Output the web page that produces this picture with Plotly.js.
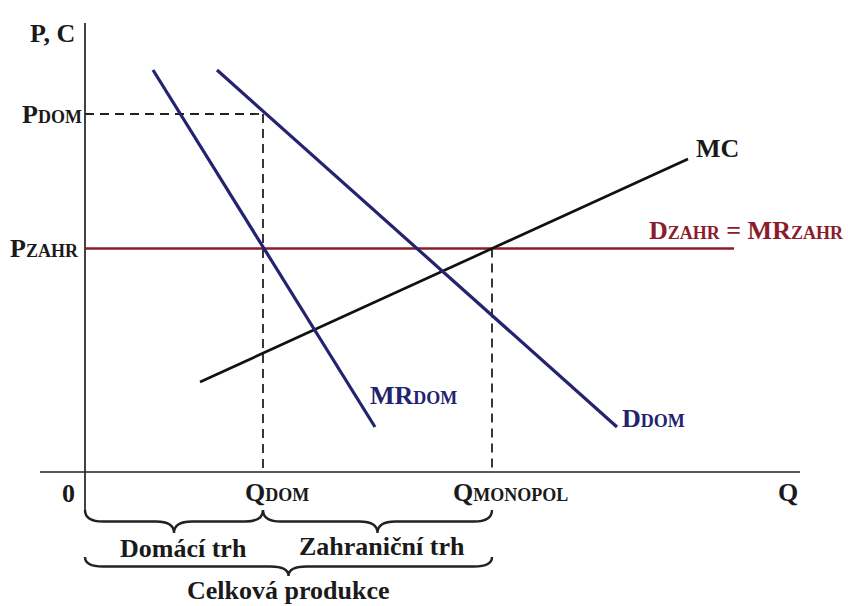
<!DOCTYPE html>
<html>
<head>
<meta charset="utf-8">
<script src="https://cdn.plot.ly/plotly-3.0.1.min.js"></script>
<style>html,body{margin:0;padding:0;background:#fff;}#chart{width:848px;height:606px;}</style>
</head>
<body>
<div id="chart"></div>
<script>
// Key levels (quantity / price units)
const qDom = 17.8;
const qMon = 40.7;
const pDom = 35.8;
const pZahr = 22.35;

// Curves
const mrDomQ = [6.8, 29.0];
const mrDomP = [40.2, 4.5];
const dDomQ = [13.2, 53.2];
const dDomP = [40.2, 4.5];
const mcQ = [11.5, 60.3];
const mcP = [9.0, 31.3];
const dZahrQ = [0, 64.9];
const dZahrP = [pZahr, pZahr];

// Axes extents
const xAxisQ = [-4.5, 71.5];
const yAxisP = [-3.8, 44.9];

const FONT = 'Liberation Serif, Times New Roman, serif';
const BLUE = '#23236f';
const RED = '#8a1c2c';
const SIZE = 26;
const sub = s => `<span style="font-size:18px">${s}</span>`;

const line = (x, y, color, width, dash) => ({
  type: 'scatter', mode: 'lines', x: x, y: y,
  line: {color: color, width: width, dash: dash || 'solid'},
  hoverinfo: 'skip', showlegend: false
});

const traces = [
  line(xAxisQ, [0, 0], '#222', 1.7),
  line([0, 0], yAxisP, '#222', 1.7),
  line([0, qDom], [pDom, pDom], '#222', 1.8, '9px,6px'),
  line([qDom, qDom], [pDom, 0], '#222', 1.8, '9px,6px'),
  line([qMon, qMon], [pZahr, 0], '#222', 1.8, '9px,6px'),
  line(dZahrQ, dZahrP, RED, 2.6),
  line(mcQ, mcP, '#111', 2.7),
  line(mrDomQ, mrDomP, BLUE, 3.2),
  line(dDomQ, dDomP, BLUE, 3.2)
];

function brace(x0, x1, yTop, h, r) {
  const ym = yTop - h / 2, yb = yTop - h, xm = (x0 + x1) / 2;
  return `M${x0},${yTop} Q${x0},${ym} ${x0 + r},${ym} L${xm - r},${ym} Q${xm},${ym} ${xm},${yb} ` +
         `Q${xm},${ym} ${xm + r},${ym} L${x1 - r},${ym} Q${x1},${ym} ${x1},${yTop}`;
}
const braceStyle = {color: '#222', width: 2.4};
const shapes = [
  {type: 'path', xref: 'x', yref: 'y', path: brace(0, qDom, -3.8, 2.3, 1.8), line: braceStyle},
  {type: 'path', xref: 'x', yref: 'y', path: brace(qDom, qMon, -3.8, 2.3, 1.8), line: braceStyle},
  {type: 'path', xref: 'x', yref: 'y', path: brace(0, qMon, -8.5, 1.9, 1.8), line: braceStyle}
];

const ann = (x, y, text, opts) => Object.assign({
  x: x, y: y, xref: 'x', yref: 'y', text: text, showarrow: false,
  xanchor: 'center', yanchor: 'middle',
  font: {family: FONT, size: SIZE, color: '#1a1a1a', weight: 'bold'}
}, opts || {});
const colored = c => ({font: {family: FONT, size: SIZE, color: c, weight: 'bold'}});

const annotations = [
  ann(-3.3, 43.9, 'P, C'),
  ann(-0.1, pDom, 'P' + sub('DOM'), {xanchor: 'right'}),
  ann(-0.4, pZahr, 'P' + sub('ZAHR'), {xanchor: 'right'}),
  ann(63.2, 32.4, 'MC'),
  ann(66.1, 24.2, 'D' + sub('ZAHR') + ' = MR' + sub('ZAHR'), colored(RED)),
  ann(32.8, 7.7, 'MR' + sub('DOM'), colored(BLUE)),
  ann(56.8, 5.4, 'D' + sub('DOM'), colored(BLUE)),
  ann(-1.7, -2.1, '0'),
  ann(19.2, -2.0, 'Q' + sub('DOM')),
  ann(42.5, -2.0, 'Q' + sub('MONOPOL')),
  ann(70.3, -2.0, 'Q'),
  ann(9.8, -7.6, 'Domácí trh'),
  ann(29.7, -7.4, 'Zahraniční trh'),
  ann(20.3, -13.35, 'Celková produkce', {yanchor: 'bottom', borderpad: 0})
];

const layout = {
  width: 848, height: 606,
  margin: {l: 0, r: 0, t: 0, b: 0},
  paper_bgcolor: '#fff', plot_bgcolor: '#fff',
  xaxis: {range: [-8.5, 76.3], visible: false, fixedrange: true},
  yaxis: {range: [-13.4, 47.2], visible: false, fixedrange: true},
  shapes: shapes,
  annotations: annotations,
  showlegend: false
};

Plotly.newPlot('chart', traces, layout, {displayModeBar: false, staticPlot: true});
</script>
</body>
</html>
